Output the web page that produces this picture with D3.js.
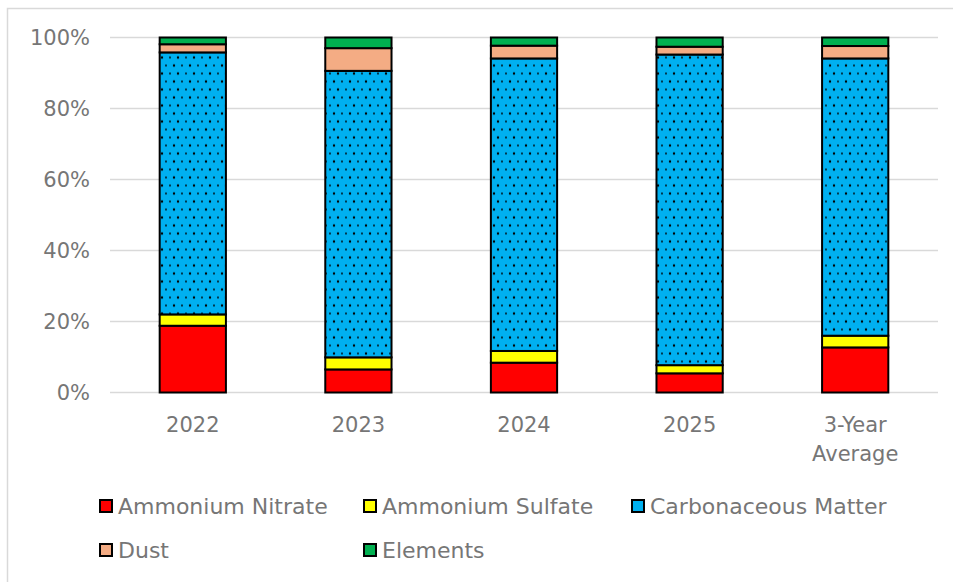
<!DOCTYPE html>
<html>
<head>
<meta charset="utf-8">
<script src="https://cdn.jsdelivr.net/npm/d3@7"></script>
<style>
  body { margin: 0; background: #fff; }
  svg { display: block; }
</style>
</head>
<body>
<div id="chart"></div>
<script>
// data (percent of total)
const categories = ["2022", "2023", "2024", "2025", "3-Year Average"];
const seriesNames = ["Ammonium Nitrate", "Ammonium Sulfate", "Carbonaceous Matter", "Dust", "Elements"];
const ammoniumNitrate   = [18.8, 6.5, 8.4, 5.4, 12.7];
const ammoniumSulfate   = [3.2, 3.4, 3.3, 2.3, 3.3];
const carbonaceous      = [73.8, 80.7, 82.4, 87.5, 78.1];
const dust              = [2.3, 6.4, 3.6, 2.2, 3.5];
const elements          = [1.9, 3.0, 2.3, 2.6, 2.4];
const yTicks = [0, 20, 40, 60, 80, 100];

const colors = ["#FF0000", "#FFFF00", "#00B0F0", "#F4AC84", "#00B050"];
const font = "'DejaVu Sans', Lato, sans-serif";
const textColor = "#767676";

const width = 953, height = 582;
const margin = { top: 37.5, right: 15, bottom: 189.5, left: 110 };

const svg = d3.select("#chart").append("svg")
  .attr("width", width)
  .attr("height", height)
  .style("font-family", font);

// dotted pattern for carbonaceous matter
const defs = svg.append("defs");
const pat = defs.append("pattern")
  .attr("id", "dots")
  .attr("patternUnits", "userSpaceOnUse")
  .attr("width", 16).attr("height", 16);
pat.append("rect").attr("width", 16).attr("height", 16).attr("fill", colors[2]);
[[4, 4], [12, 4], [0, 12], [8, 12], [16, 12]].forEach(([cx, cy], i) => {
  pat.append("circle").attr("cx", cx).attr("cy", cy)
    .attr("r", i % 2 === 0 ? 1.2 : 0.9).attr("fill", "#000");
});

// outer frame
svg.append("rect")
  .attr("x", 7.5).attr("y", 8.5)
  .attr("width", 960).attr("height", 580)
  .attr("fill", "none").attr("stroke", "#D9D9D9").attr("stroke-width", 1.5);

const plotW = width - margin.left - margin.right;
const plotH = height - margin.top - margin.bottom;

const g = svg.append("g").attr("transform", `translate(${margin.left},${margin.top})`);

const x = d3.scaleBand().domain(categories).range([0, plotW]).paddingInner(0.6).paddingOuter(0.3);
const y = d3.scaleLinear().domain([0, 100]).range([plotH, 0]);

// gridlines
g.selectAll(".grid")
  .data(yTicks)
  .join("line")
    .attr("x1", 0).attr("x2", plotW)
    .attr("y1", d => y(d)).attr("y2", d => y(d))
    .attr("stroke", "#D9D9D9").attr("stroke-width", 1.5);

// y axis labels
const yAxis = d3.axisLeft(y).tickValues(yTicks).tickFormat(d => d + "%").tickSize(0).tickPadding(20);
g.append("g").call(yAxis)
  .call(a => a.select(".domain").remove())
  .selectAll("text")
    .attr("fill", textColor)
    .style("font-size", "21px")
    .style("font-family", font);

// stacked data
const rows = categories.map((c, i) => ({
  cat: c,
  "Ammonium Nitrate": ammoniumNitrate[i],
  "Ammonium Sulfate": ammoniumSulfate[i],
  "Carbonaceous Matter": carbonaceous[i],
  "Dust": dust[i],
  "Elements": elements[i]
}));
const stack = d3.stack().keys(seriesNames)(rows);

const fillFor = i => i === 2 ? "url(#dots)" : colors[i];

g.selectAll(".series")
  .data(stack)
  .join("g")
    .attr("fill", (d, i) => fillFor(i))
  .selectAll("rect")
  .data(d => d)
  .join("rect")
    .attr("x", d => x(d.data.cat))
    .attr("width", x.bandwidth())
    .attr("y", d => y(d[1]))
    .attr("height", d => y(d[0]) - y(d[1]))
    .attr("stroke", "#000")
    .attr("stroke-width", 2);

// x axis labels
const xAxis = d3.axisBottom(x).tickSize(0).tickPadding(0);
const xg = g.append("g").attr("transform", `translate(0,${plotH})`).call(xAxis);
xg.select(".domain").remove();
xg.selectAll("text")
  .attr("fill", textColor)
  .style("font-size", "21px")
  .style("font-family", font)
  .each(function(d) {
    const t = d3.select(this);
    t.text(null).attr("dy", null).attr("y", 39);
    const words = d === "3-Year Average" ? ["3-Year", "Average"] : [d];
    words.forEach((w, k) => {
      t.append("tspan").attr("x", 0).attr("dy", k === 0 ? 0 : 29).text(w);
    });
  });

// legend
const legendPos = [[100, 506], [364, 506], [632, 506], [100, 550], [364, 550]];
const lg = svg.append("g");
const items = lg.selectAll(".item")
  .data(seriesNames)
  .join("g")
    .attr("transform", (d, i) => `translate(${legendPos[i][0]},${legendPos[i][1]})`);
items.append("rect")
  .attr("x", 0).attr("y", -6).attr("width", 12).attr("height", 12)
  .attr("fill", (d, i) => colors[i])
  .attr("stroke", "#000").attr("stroke-width", 2);
items.append("text")
  .attr("x", 18).attr("y", 8)
  .attr("fill", textColor)
  .style("font-size", "22px")
  .text(d => d);
</script>
</body>
</html>
